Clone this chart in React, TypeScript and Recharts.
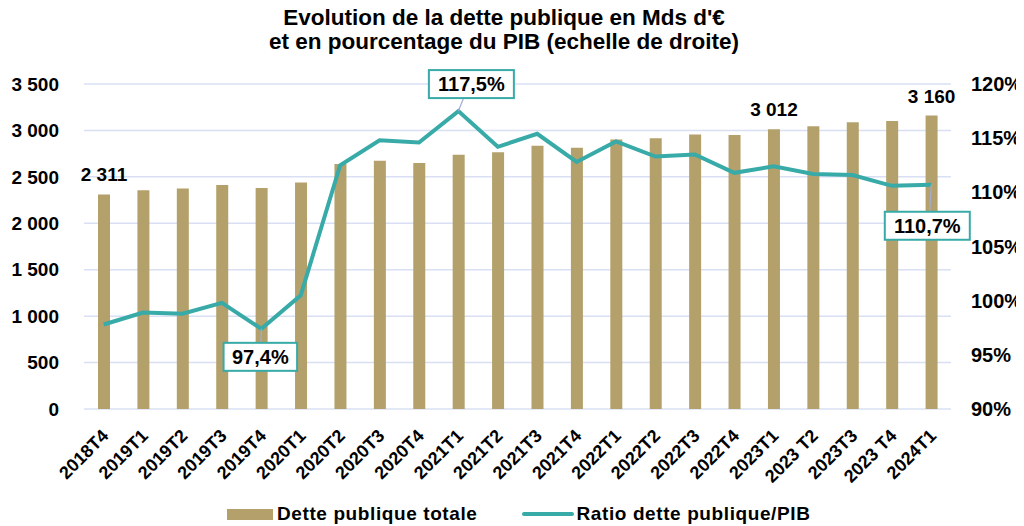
import { Bar, CartesianGrid, ComposedChart, LabelList, Line, XAxis, YAxis } from 'recharts'

const quarters = [
  '2018T4', '2019T1', '2019T2', '2019T3', '2019T4', '2020T1', '2020T2', '2020T3', '2020T4', '2021T1', '2021T2',
  '2021T3', '2021T4', '2022T1', '2022T2', '2022T3', '2022T4', '2023T1', '2023 T2', '2023T3', '2023 T4', '2024T1',
]
const detteTotale = [
  2311, 2355, 2374, 2412, 2380, 2438, 2638, 2674, 2650, 2739, 2764,
  2834, 2813, 2902, 2917, 2957, 2950, 3012, 3046, 3088, 3101, 3160,
]
const ratioPib = [
  97.8, 98.9, 98.8, 99.8, 97.4, 100.5, 112.5, 114.8, 114.6, 117.5, 114.2,
  115.4, 112.8, 114.7, 113.3, 113.5, 111.8, 112.4, 111.7, 111.6, 110.6, 110.7,
]
const leftTicks = [0, 500, 1000, 1500, 2000, 2500, 3000, 3500]
const rightTicks = [90, 95, 100, 105, 110, 115, 120]
// quarters whose bar value is written above it
const labelledBars = ['2018T4', '2023T1', '2024T1']
// quarters whose ratio gets a boxed callout, with the box centre offset from the point
const callouts: Record<string, [number, number]> = {
  '2019T4': [-1, 28],
  '2021T1': [13, -27],
  '2024T1': [-4, 41],
}

const data = quarters.map((q, i) => ({ q, dette: detteTotale[i], ratio: ratioPib[i] }))

const FONT = '"Liberation Sans", Arial, sans-serif'
const BAR = '#b3a06a'
const TEAL = '#38aaa7'
const GRID = '#d9e0f3'

const fmtMds = (v: number) => String(v).replace(/\B(?=(\d{3})+(?!\d))/g, ' ')
const fmtPct = (v: number) => v.toFixed(1).replace('.', ',') + '%'

const XTick = ({ x, y, payload }: any) => (
  <text
    x={x + 6}
    y={y + 20}
    transform={`rotate(-45, ${x + 6}, ${y + 20})`}
    textAnchor="end"
    fontSize={18}
    fontWeight="bold"
    fontFamily={FONT}
    fill="#000"
  >
    {payload.value}
  </text>
)

const BarValue = (props: any) => {
  const { x, y, width, index } = props
  if (!labelledBars.includes(quarters[index])) return null
  return (
    <text x={x + width / 2} y={y - 13} textAnchor="middle" fontSize={19} fontWeight="bold" fontFamily={FONT} fill="#000">
      {fmtMds(detteTotale[index])}
    </text>
  )
}

const Callout = (props: any) => {
  const { x, y, index } = props
  const off = callouts[quarters[index]]
  if (!off) return null
  const text = fmtPct(ratioPib[index])
  const w = text.length * 11.5 + 16
  const h = 28
  const cx = x + off[0]
  const cy = y + off[1]
  const edge = off[1] < 0 ? cy + h / 2 : cy - h / 2
  return (
    <g>
      <line x1={x} y1={y} x2={x + off[0] * 0.4} y2={edge} stroke="#a3abd6" strokeWidth={1.2} />
      <rect x={cx - w / 2} y={cy - h / 2} width={w} height={h} fill="#fff" stroke={TEAL} strokeWidth={2} />
      <text x={cx} y={cy + 7} textAnchor="middle" fontSize={20} fontWeight="bold" fontFamily={FONT} fill="#000">
        {text}
      </text>
    </g>
  )
}

export default function App() {
  return (
    <div style={{ position: 'relative', width: 1024, height: 526, marginTop: -8, marginLeft: -8, background: '#fff', fontFamily: FONT }}>
      <div
        style={{
          position: 'absolute',
          top: 6,
          left: 0,
          width: 1008,
          textAlign: 'center',
          fontSize: 22.5,
          fontWeight: 'bold',
          lineHeight: '24px',
          color: '#000',
        }}
      >
        Evolution de la dette publique en Mds d'€
        <br />
        et en pourcentage du PIB (echelle de droite)
      </div>
      <ComposedChart width={1024} height={526} data={data} margin={{ top: 84, right: 0, bottom: 0, left: 0 }}>
        <CartesianGrid yAxisId="left" vertical={false} stroke={GRID} strokeWidth={1.5} />
        <XAxis dataKey="q" height={117} interval={0} axisLine={false} tickLine={false} tick={<XTick />} />
        <YAxis
          yAxisId="left"
          width={84}
          domain={[0, 3500]}
          ticks={leftTicks}
          axisLine={false}
          tickLine={false}
          tickMargin={19}
          tickFormatter={fmtMds}
          tick={{ fill: '#000', fontSize: 19, fontWeight: 'bold', fontFamily: FONT }}
        />
        <YAxis
          yAxisId="right"
          orientation="right"
          width={73}
          domain={[90, 120]}
          ticks={rightTicks}
          axisLine={false}
          tickLine={false}
          tickMargin={14}
          tickFormatter={(v: number) => `${v}%`}
          tick={{ fill: '#000', fontSize: 20, fontWeight: 'bold', fontFamily: FONT }}
        />
        <Bar yAxisId="left" dataKey="dette" fill={BAR} barSize={12} isAnimationActive={false}>
          <LabelList dataKey="dette" content={<BarValue />} />
        </Bar>
        <Line
          yAxisId="right"
          dataKey="ratio"
          stroke={TEAL}
          strokeWidth={4}
          dot={false}
          type="linear"
          isAnimationActive={false}
        >
          <LabelList dataKey="ratio" content={<Callout />} />
        </Line>
      </ComposedChart>
      <div
        style={{
          position: 'absolute',
          top: 504,
          left: 227,
          height: 20,
          display: 'flex',
          alignItems: 'center',
          fontSize: 19,
          lineHeight: '20px',
          letterSpacing: 0.6,
          fontWeight: 'bold',
          color: '#000',
        }}
      >
        <span style={{ display: 'inline-block', width: 46, height: 11, background: BAR, marginRight: 4 }} />
        <span>Dette publique totale</span>
        <span style={{ display: 'inline-block', width: 52, height: 4, background: TEAL, borderRadius: 2, marginLeft: 44, marginRight: 3 }} />
        <span>Ratio dette publique/PIB</span>
      </div>
    </div>
  )
}
